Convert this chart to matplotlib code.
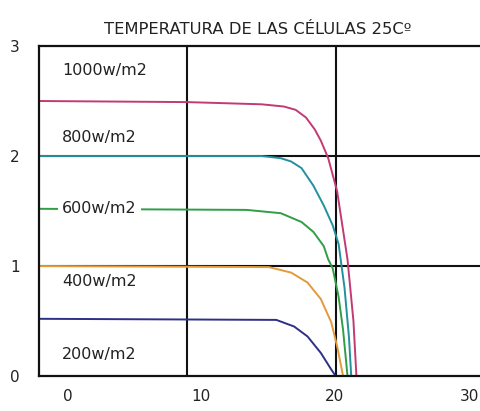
import matplotlib
matplotlib.use("Agg")
import matplotlib.pyplot as plt

title = "TEMPERATURA DE LAS CÉLULAS 25Cº"

v_1000 = [0, 10, 15, 16.5, 17.3, 18.0, 18.6, 19.0, 19.5, 20.1, 20.8, 21.2, 21.4]
i_1000 = [2.5, 2.49, 2.47, 2.45, 2.42, 2.35, 2.24, 2.14, 1.98, 1.68, 1.06, 0.5, 0]

v_800 = [0, 15, 16.3, 17.0, 17.7, 18.5, 19.2, 19.8, 20.2, 20.6, 20.9, 21.05]
i_800 = [2.0, 2.0, 1.98, 1.95, 1.89, 1.73, 1.55, 1.37, 1.2, 0.8, 0.35, 0]

v_600 = [0, 14, 16.3, 17.7, 18.5, 19.2, 19.5, 19.8, 20.2, 20.5, 20.8]
i_600 = [1.52, 1.51, 1.48, 1.40, 1.31, 1.18, 1.06, 0.98, 0.72, 0.42, 0]

v_400 = [0, 15.5, 17.0, 18.1, 19.0, 19.7, 20.1, 20.5]
i_400 = [1.0, 0.99, 0.94, 0.85, 0.70, 0.49, 0.27, 0]

v_200 = [0, 16, 17.2, 18.1, 19.0, 19.7, 20.0]
i_200 = [0.52, 0.51, 0.45, 0.36, 0.21, 0.06, 0]

labels = ["1000w/m2", "800w/m2", "600w/m2", "400w/m2", "200w/m2"]
label_y = [2.78, 2.17, 1.52, 0.86, 0.2]
colors = ["#c23a74", "#23909e", "#2f9e46", "#e39a3a", "#2e2f86"]

x_ticks = [0, 10, 20, 30]
y_ticks = [0, 1, 2, 3]

fig = plt.figure(figsize=(4.81, 4.11), dpi=100)
ax = fig.add_axes([39/481, 1 - 376/411, 1 - 39/481, (376 - 46)/411])
ax.set_xlim(0, 29.8)
ax.set_ylim(0, 3)

for s in ["left", "bottom", "top"]:
    ax.spines[s].set_linewidth(1.6)
    ax.spines[s].set_color("#111111")
ax.spines["right"].set_visible(False)

for gx in [10, 20]:
    ax.axvline(gx, color="#111111", lw=1.5, zorder=1)
for gy in [1, 2]:
    ax.axhline(gy, color="#111111", lw=1.5, zorder=1)

series = [(v_1000, i_1000), (v_800, i_800), (v_600, i_600), (v_400, i_400), (v_200, i_200)]
for (v, i), c in zip(series, colors):
    ax.plot(v, i, color=c, lw=1.4, zorder=2)

for t, y in zip(labels, label_y):
    ax.text(1.55, y, t, fontsize=11.5, color="#222222", va="center", ha="left", zorder=3,
            bbox=dict(facecolor="white", edgecolor="none", boxstyle="square,pad=0.25"))

# tick labels (offset from grid as in reference)
label_pos = [1.95, 10.95, 19.95, 29.05]
ax.set_xticks(label_pos)
ax.set_xticklabels([str(t) for t in x_ticks], fontsize=11, color="#222222")
ax.set_yticks(y_ticks)
ax.set_yticklabels([str(t) for t in y_ticks], fontsize=11, color="#222222")
ax.tick_params(axis="x", length=0, pad=9)
ax.tick_params(axis="y", length=0, pad=14)

fig.text(258/481, 1 - 30/411, title, fontsize=11.8, color="#222222", ha="center", va="center")

fig.savefig("out.png", dpi=100)
